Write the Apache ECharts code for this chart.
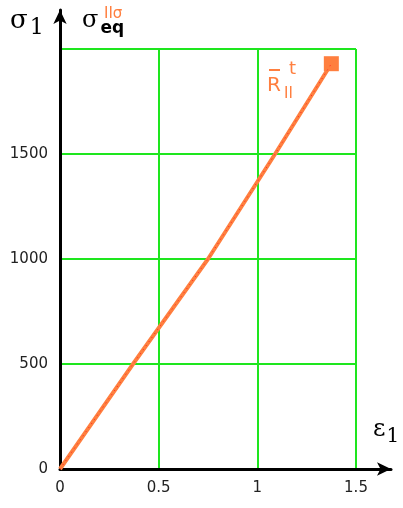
<!DOCTYPE html>
<html lang="en">
<head>
    <meta charset="UTF-8">
    <title>sigma - epsilon</title>
    <style>
        html, body { margin: 0; padding: 0; background: #fff; }
        #main { width: 403px; height: 508px; }
    </style>
</head>
<body>
<div id="main"></div>

<script src="https://cdn.jsdelivr.net/npm/echarts@6/dist/echarts.min.js"></script>
<script>
    // strain / stress
    var eps = [0, 0.37, 0.75, 1.09, 1.375];
    var sig = [0, 500, 1000, 1500, 1930];
    var endPoint = [1.375, 1930];
    var xTicks = [0, 0.5, 1, 1.5];
    var yTicks = [0, 500, 1000, 1500, 2000];

    var green = '#1ee61e';
    var orange = '#ff7f3f';

    var chartDom = document.getElementById('main');
    var myChart = echarts.init(chartDom);
    var option;

    option = {
        animation: false,
        grid: [
            // data grid
            {left: 60, right: 47, top: 49, bottom: 39},
            // outer grid, only for the arrowed axis lines
            {left: 60, right: 12, top: 10, bottom: 39}
        ],
        xAxis: [
            {
                gridIndex: 0, type: 'value',
                min: xTicks[0], max: xTicks[xTicks.length - 1], interval: 0.5,
                axisLine: {show: false},
                axisTick: {show: false},
                axisLabel: {
                    color: '#222', fontSize: 15, fontFamily: 'DejaVu Sans', margin: 12,
                    formatter: function (v) { return String(v); }
                },
                splitLine: {show: true, showMinLine: false, lineStyle: {color: green, width: 2}}
            },
            {
                gridIndex: 1, type: 'value', min: 0, max: 1,
                axisLine: {show: true, lineStyle: {color: '#000', width: 3}, symbol: ['none', 'arrow'], symbolSize: [10, 14]},
                axisTick: {show: false}, axisLabel: {show: false}, splitLine: {show: false}
            }
        ],
        yAxis: [
            {
                gridIndex: 0, type: 'value',
                min: yTicks[0], max: yTicks[yTicks.length - 1], interval: 500,
                axisLine: {show: false},
                axisTick: {show: false},
                axisLabel: {
                    color: '#222', fontSize: 15, fontFamily: 'DejaVu Sans', margin: 12, showMaxLabel: false,
                    formatter: function (v) { return String(v); }
                },
                splitLine: {show: true, showMinLine: false, lineStyle: {color: green, width: 2}}
            },
            {
                gridIndex: 1, type: 'value', min: 0, max: 1,
                axisLine: {show: true, lineStyle: {color: '#000', width: 3}, symbol: ['none', 'arrow'], symbolSize: [10, 14]},
                axisTick: {show: false}, axisLabel: {show: false}, splitLine: {show: false}
            }
        ],
        series: [
            {
                type: 'line',
                xAxisIndex: 0, yAxisIndex: 0,
                data: eps.map(function (e, i) { return [e, sig[i]]; }),
                showSymbol: false,
                lineStyle: {color: orange, width: 4}
            },
            {
                type: 'line',
                xAxisIndex: 0, yAxisIndex: 0,
                data: eps.map(function (e, i) { return [e, sig[i]]; }),
                showSymbol: false,
                lineStyle: {color: '#ff2020', width: 1, type: [1, 4]}
            },
            {
                type: 'scatter',
                xAxisIndex: 0, yAxisIndex: 0,
                data: [endPoint],
                symbol: 'rect',
                symbolSize: 15,
                itemStyle: {color: orange, opacity: 1}
            }
        ],
        graphic: [
            {
                type: 'text', left: 10, top: 8,
                style: {
                    text: '{s|σ}{n|1}',
                    rich: {
                        s: {fontSize: 26, fontFamily: 'DejaVu Serif', fill: '#000'},
                        n: {fontSize: 22, fontFamily: 'DejaVu Serif', fill: '#000', padding: [14, 0, 0, 2]}
                    }
                }
            },
            {
                type: 'text', left: 82, top: 9,
                style: {
                    text: '{s|σ}{e|eq}',
                    rich: {
                        s: {fontSize: 24, fontFamily: 'DejaVu Serif', fill: '#000'},
                        e: {fontSize: 17, fontFamily: 'DejaVu Sans', fontWeight: 'bold', fill: '#000', padding: [16, 0, 0, 2]}
                    }
                }
            },
            {
                type: 'text', left: 104, top: 7,
                style: {text: 'IIσ', fontSize: 15, fontFamily: 'DejaVu Sans', fill: orange}
            },
            {
                type: 'text', left: 267, top: 76,
                style: {text: 'R', fontSize: 20, fontFamily: 'DejaVu Sans', fill: orange}
            },
            {
                type: 'rect', left: 269, top: 69,
                shape: {width: 11, height: 2},
                style: {fill: orange}
            },
            {
                type: 'text', left: 289, top: 60,
                style: {text: 't', fontSize: 18, fontFamily: 'DejaVu Sans', fill: orange}
            },
            {
                type: 'text', left: 284, top: 87,
                style: {text: 'II', fontSize: 15, fontFamily: 'DejaVu Sans', fill: orange}
            },
            {
                type: 'text', left: 373, top: 418,
                style: {
                    text: '{s|ε}{n|1}',
                    rich: {
                        s: {fontSize: 24, fontFamily: 'DejaVu Serif', fill: '#000'},
                        n: {fontSize: 20, fontFamily: 'DejaVu Serif', fill: '#000', padding: [14, 0, 0, 1]}
                    }
                }
            }
        ]
    };

    option && myChart.setOption(option);
</script>
</body>
</html>
